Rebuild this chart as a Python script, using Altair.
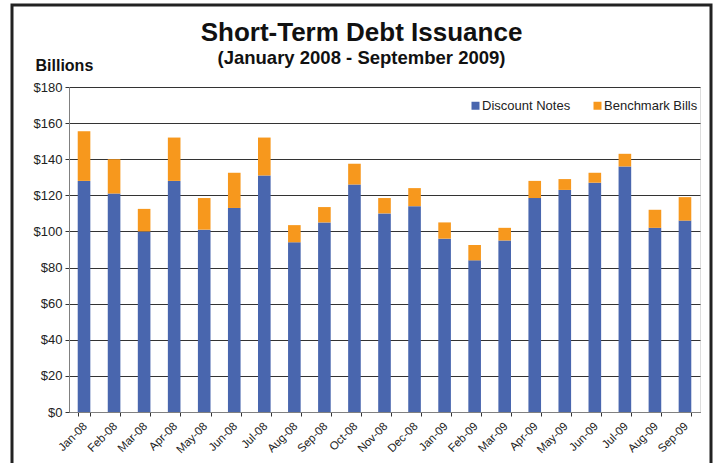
import altair as alt
import pandas as pd

months = ["Jan-08", "Feb-08", "Mar-08", "Apr-08", "May-08", "Jun-08", "Jul-08",
          "Aug-08", "Sep-08", "Oct-08", "Nov-08", "Dec-08", "Jan-09", "Feb-09",
          "Mar-09", "Apr-09", "May-09", "Jun-09", "Jul-09", "Aug-09", "Sep-09"]
discount_notes = [128, 121, 100, 128, 101, 113, 131, 94, 105, 126, 110, 114, 96, 84,
                  95, 118.5, 123, 127, 136, 102, 106]
totals = [155.5, 140, 112.5, 152, 118.5, 132.5, 152, 103.5, 113.5, 137.5, 118.5, 124,
          105, 92.5, 102, 128, 129, 132.5, 143, 112, 119]
benchmark_bills = [round(t - d, 1) for t, d in zip(totals, discount_notes)]

series = ["Discount Notes", "Benchmark Bills"]
colors = ["#4966AE", "#F7981D"]

rows = []
for m, d, b in zip(months, discount_notes, benchmark_bills):
    rows.append({"month": m, "series": "Discount Notes", "value": d, "ord": 0})
    rows.append({"month": m, "series": "Benchmark Bills", "value": b, "ord": 1})
df = pd.DataFrame(rows)

FONT = "Liberation Sans"

bars = alt.Chart(df).mark_bar().encode(
    x=alt.X("month:N", sort=months,
            scale=alt.Scale(paddingInner=0.58, paddingOuter=0.29),
            axis=alt.Axis(title=None, labelAngle=-45, labelAlign="right",
                          labelBaseline="top", labelFontSize=11.5, labelColor="#222",
                          labelPadding=4, labelOffset=-3, tickBand="extent", tickSize=4,
                          tickColor="#333", domainColor="#808080", labelFont=FONT)),
    y=alt.Y("value:Q", stack="zero",
            scale=alt.Scale(domain=[0, 180], nice=False),
            axis=alt.Axis(values=list(range(0, 181, 20)),
                          labelExpr="'$' + datum.value",
                          labelFontSize=13, labelColor="#222", labelFont=FONT,
                          tickSize=4, tickColor="#333", labelPadding=3,
                          domainColor="#808080",
                          grid=True, gridColor="#333", gridWidth=1.2,
                          title="Billions", titleAngle=0, titleX=-34, titleY=-17,
                          titleAlign="left", titleBaseline="alphabetic",
                          titleFontSize=16, titleFontWeight="bold", titleFont=FONT,
                          titleColor="#111")),
    color=alt.Color("series:N", scale=alt.Scale(domain=series, range=colors),
                    legend=alt.Legend(title=None, orient="none", legendX=400,
                                      legendY=12, direction="horizontal",
                                      symbolType="square", symbolSize=64,
                                      symbolStrokeWidth=0,
                                      labelFontSize=13, labelFont=FONT,
                                      labelColor="#222", labelOffset=0,
                                      columnPadding=20)),
    order=alt.Order("ord:Q"),
)

frame = alt.Chart(pd.DataFrame({"a": [0]})).mark_rect(
    filled=False, stroke="#222", strokeWidth=3
).encode(
    x=alt.value(-57), x2=alt.value(642), y=alt.value(-82), y2=alt.value(386)
)

chart = alt.layer(bars, frame).properties(
    width=631, height=325,
    title=alt.TitleParams(
        text="Short-Term Debt Issuance",
        subtitle="(January 2008 - September 2009)",
        font=FONT, fontSize=26, fontWeight="bold", color="#111",
        subtitleFont=FONT, subtitleFontSize=18.5, subtitleFontWeight="bold",
        subtitleColor="#111", subtitlePadding=3,
        anchor="middle", dx=-23, offset=0, dy=64,
    ),
    padding={"left": 69, "top": 87, "right": 17, "bottom": 51},
    autosize=alt.AutoSizeParams(type="none"),
).configure_view(stroke=None).configure(background="white")

chart.save("out.html", embed_options={"renderer": "svg", "actions": False})
